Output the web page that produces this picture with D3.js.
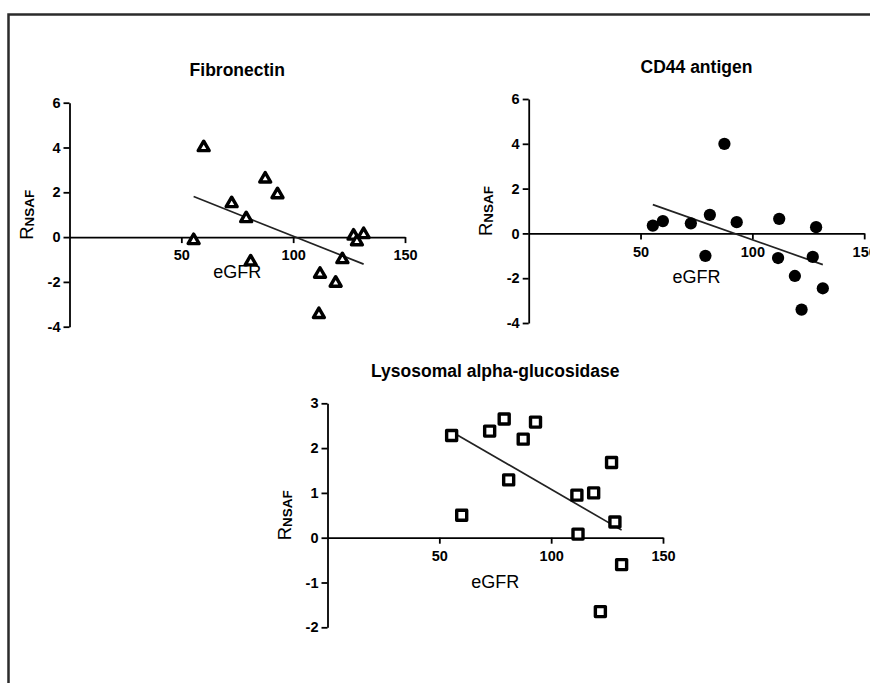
<!DOCTYPE html>
<html>
<head>
<meta charset="utf-8">
<script src="https://cdn.jsdelivr.net/npm/d3@7"></script>
<style>
  body { margin: 0; background: #fff; }
  text { font-family: "Liberation Sans", Arial, sans-serif; }
  .axis path, .axis line { stroke: #000; stroke-width: 1.8; }
  .axis text { font-size: 14.5px; font-weight: bold; fill: #000; font-family: "Liberation Sans", Arial, sans-serif; }
</style>
</head>
<body>
<div id="chart"></div>
<script>
// same patients in every panel
var eGFR = [55.5, 60, 72.5, 79, 81, 87.5, 93, 111.5, 112, 119, 122, 127, 128.5, 131.5];
var fibronectin = [-0.15, 4.0, 1.5, 0.83, -1.1, 2.6, 1.9, -3.45, -1.65, -2.05, -1.0, 0.05, -0.2, 0.12];
var cd44 = [0.35, 0.55, 0.45, -1.0, 0.83, 4.0, 0.5, -1.1, 0.65, -1.9, -3.4, -1.05, 0.28, -2.45];
var lysosomal = [2.28, 0.5, 2.38, 2.65, 1.29, 2.2, 2.58, 0.95, 0.08, 1.0, -1.65, 1.68, 0.35, -0.6];

var titles = ["Fibronectin", "CD44 antigen", "Lysosomal alpha-glucosidase"];
var xTicks = [50, 100, 150];
var yTicksWide = [-4, -2, 0, 2, 4, 6];
var yTicksNarrow = [-2, -1, 0, 1, 2, 3];

var W = 870, H = 683;
var w = 335.5, h = 224;

var svg = d3.select("#chart").append("svg")
  .attr("width", W)
  .attr("height", H);

svg.append("rect").attr("width", W).attr("height", H).attr("fill", "#fff");

// frame round the figure
svg.append("path")
  .attr("d", "M8.5," + (H + 5) + "V14.5H" + (W + 5))
  .attr("fill", "none")
  .attr("stroke", "#2b2b2b")
  .attr("stroke-width", 2.5);

var panels = [
  {title: titles[0], y: fibronectin, yTicks: yTicksWide, left: 69.5, top: 102.7, marker: "triangle", labelGap: 34.5},
  {title: titles[1], y: cd44, yTicks: yTicksWide, left: 528.7, top: 99, marker: "circle", labelGap: 43.5},
  {title: titles[2], y: lysosomal, yTicks: yTicksNarrow, left: 327.5, top: 403.3, marker: "square", labelGap: 44}
];

panels.forEach(function(p) {
  var g = svg.append("g")
    .attr("transform", "translate(" + p.left + "," + p.top + ")");

  var x = d3.scaleLinear().domain([0, 150]).range([0, w]);
  var y = d3.scaleLinear()
    .domain([d3.min(p.yTicks), d3.max(p.yTicks)])
    .range([h, 0]);

  var data = eGFR.map(function(d, i) { return {x: d, y: p.y[i]}; });

  g.append("g")
    .attr("class", "axis")
    .call(d3.axisLeft(y).tickValues(p.yTicks).tickFormat(function(d) { return String(d); })
      .tickSize(6).tickSizeOuter(0).tickPadding(3));

  g.append("g")
    .attr("class", "axis")
    .attr("transform", "translate(0," + y(0) + ")")
    .call(d3.axisBottom(x).tickValues(xTicks).tickFormat(function(d) { return String(d); })
      .tickSize(6).tickSizeOuter(0).tickPadding(7));

  // least squares line over the data range
  var mx = d3.mean(data, function(d) { return d.x; });
  var my = d3.mean(data, function(d) { return d.y; });
  var slope = d3.sum(data, function(d) { return (d.x - mx) * (d.y - my); }) /
              d3.sum(data, function(d) { return (d.x - mx) * (d.x - mx); });
  var ext = d3.extent(data, function(d) { return d.x; });
  var fit = ext.map(function(v) { return {x: v, y: my + slope * (v - mx)}; });

  g.append("path")
    .datum(fit)
    .attr("fill", "none")
    .attr("stroke", "#222")
    .attr("stroke-width", 1.7)
    .attr("d", d3.line().x(function(d) { return x(d.x); }).y(function(d) { return y(d.y); }));

  var sym;
  if (p.marker == "triangle") sym = d3.symbol().type(d3.symbolTriangle).size(52);
  else if (p.marker == "circle") sym = d3.symbol().type(d3.symbolCircle).size(118);
  else sym = d3.symbol().type(d3.symbolSquare).size(100);

  g.selectAll(".pt")
    .data(data)
    .enter()
    .append("path")
    .attr("class", "pt")
    .attr("transform", function(d) { return "translate(" + x(d.x) + "," + y(d.y) + ")"; })
    .attr("d", sym)
    .attr("fill", p.marker == "circle" ? "#000" : "#fff")
    .attr("stroke", "#000")
    .attr("stroke-width", p.marker == "circle" ? 0 : 3.4)
    .attr("stroke-linejoin", "round");

  g.append("text")
    .attr("x", w / 2)
    .attr("y", -32.5)
    .attr("dy", "0.35em")
    .style("text-anchor", "middle")
    .style("font-size", "17.5px")
    .style("font-weight", "bold")
    .text(p.title);

  g.append("text")
    .attr("x", w / 2)
    .attr("y", y(0) + p.labelGap)
    .attr("dy", "0.35em")
    .style("text-anchor", "middle")
    .style("font-size", "18px")
    .text("eGFR");

  var yl = g.append("text")
    .attr("transform", "translate(-37," + (h / 2) + ") rotate(-90)")
    .style("text-anchor", "middle");
  yl.append("tspan").style("font-size", "18.5px").text("R");
  yl.append("tspan").attr("dy", "1.5").style("font-size", "13.5px").style("font-weight", "bold").text("NSAF");
});
</script>
</body>
</html>
